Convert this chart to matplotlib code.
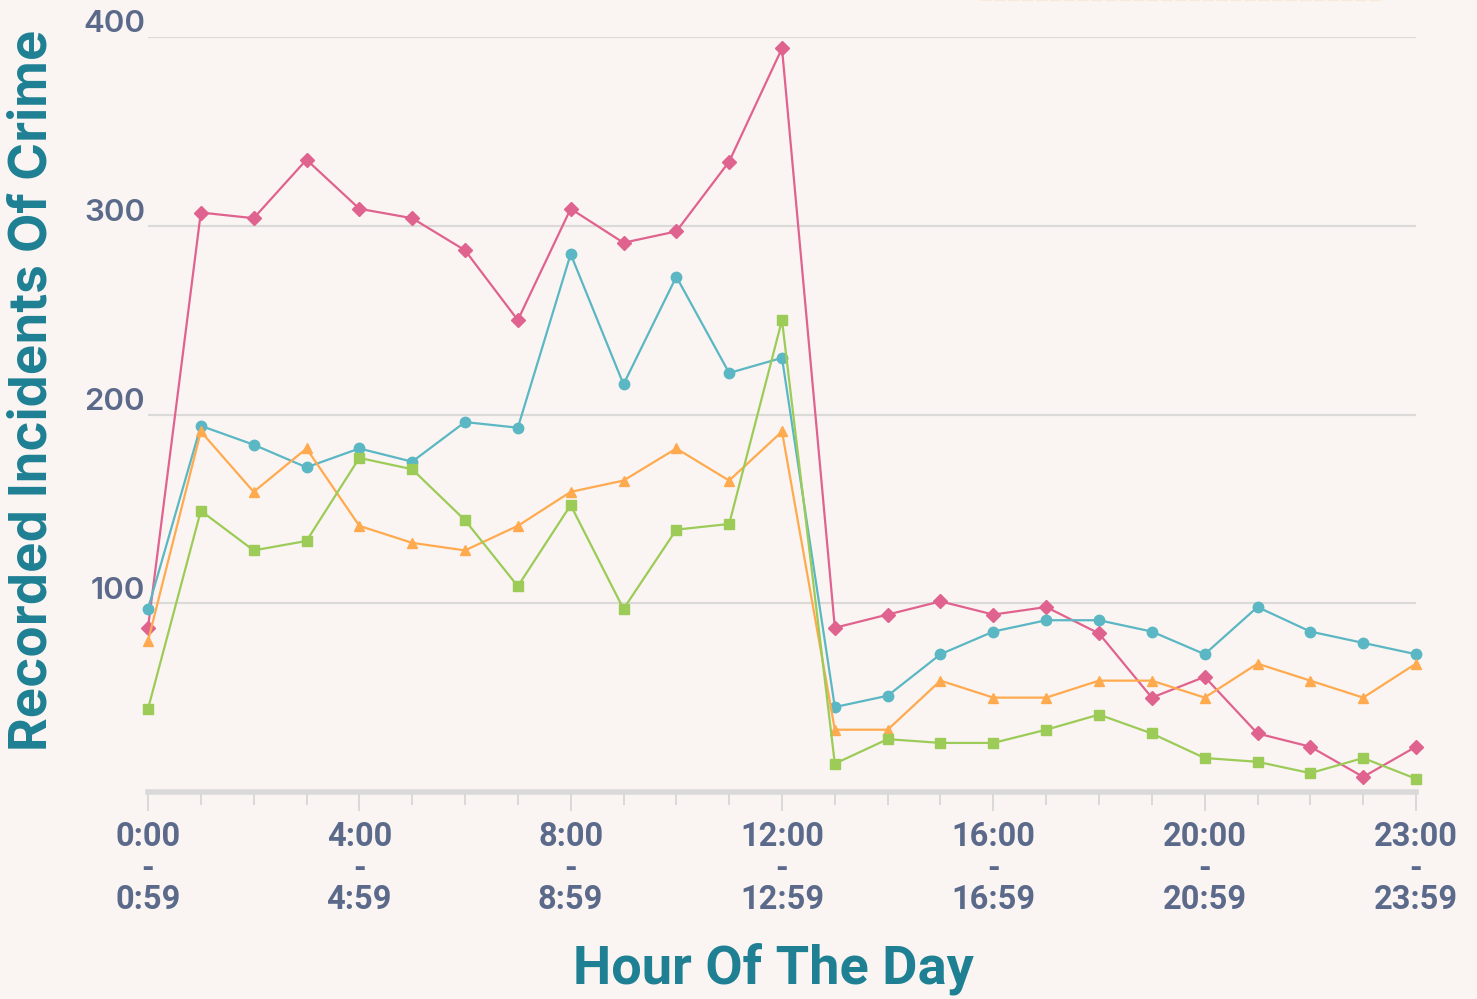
import numpy as np
import matplotlib
matplotlib.use("Agg")
import matplotlib.pyplot as plt
from matplotlib import transforms
from matplotlib.lines import Line2D

# hourly slots (25 points along the axis, as in the source chart)
hours = list(range(25))

series_pink = [87, 307, 304, 335, 309, 304, 287, 250, 309, 291, 297, 334, 394,
               87, 94, 101, 94, 98, 84, 50, 61, 31, 24, 8, 24]
series_teal = [97, 194, 184, 172, 182, 175, 196, 193, 285, 216, 273, 222, 230,
               45, 51, 73, 85, 91, 91, 85, 73, 98, 85, 79, 73]
series_orange = [80, 191, 159, 182, 141, 132, 128, 141, 159, 165, 182, 165, 191,
                 33, 33, 59, 50, 50, 59, 59, 50, 68, 59, 50, 68]
series_green = [44, 149, 128, 133, 177, 171, 144, 109, 152, 97, 139, 142, 250,
                15, 28, 26, 26, 33, 41, 31, 18, 16, 10, 18, 7]

tick_pos = [0, 4, 8, 12, 16, 20, 24]
tick_labels = ["0:00\n-\n0:59", "4:00\n-\n4:59", "8:00\n-\n8:59", "12:00\n-\n12:59",
               "16:00\n-\n16:59", "20:00\n-\n20:59", "23:00\n-\n23:59"]
y_ticks = [100, 200, 300, 400]

bg = "#faf5f2"
label_col = "#5b6a8a"
title_col = "#1f8093"
grid_col = "#dcdad9"

fig = plt.figure(figsize=(14.77, 9.99), dpi=100, facecolor=bg)
ax = fig.add_axes([148 / 1477, 1 - 792 / 999, (1416 - 148) / 1477, (792 - 37) / 999])
ax.set_facecolor(bg)
ax.set_xlim(0, 24)
ax.set_ylim(0, 400)

for y in y_ticks:
    ax.axhline(y, color=grid_col, lw=1.6, zorder=1)

styles = [
    (series_pink, "#e0638f", "D", 7.5),
    (series_teal, "#5ab7c3", "o", 7.5),
    (series_orange, "#ffaa4f", "^", 7.5),
    (series_green, "#9ccb58", "s", 7.5),
]
for i, (vals, col, mk, ms) in enumerate(styles):
    ax.plot(hours, vals, color=col, lw=1.6, marker=mk, ms=ms, mec=col, mfc=col,
            clip_on=False, zorder=3 + i)

for s in ["top", "right", "left"]:
    ax.spines[s].set_visible(False)
ax.spines["bottom"].set_color("#d9d9d9")
ax.spines["bottom"].set_linewidth(4)
ax.spines["bottom"].set_zorder(2)

ax.set_yticks([])
ax.set_xticks(tick_pos)
ax.set_xticks(hours, minor=True)
ax.set_xticklabels(tick_labels, fontsize=23.5, fontweight="bold", color=label_col,
                   family=["Roboto", "DejaVu Sans"], linespacing=0.98)
ax.tick_params(axis="x", which="major", length=14, width=1.4, color="#d9d9d9", pad=7)
ax.tick_params(axis="x", which="minor", length=9, width=1.4, color="#d9d9d9")

# y labels sit above the grid lines
off = transforms.ScaledTranslation(-3 / 100, 4.5 / 100, fig.dpi_scale_trans)
trans = transforms.blended_transform_factory(ax.transAxes, ax.transData) + off
for y in y_ticks:
    ax.text(0, y, str(y), transform=trans, ha="right", va="baseline",
            fontsize=22.5, fontweight="semibold", color=label_col,
            family=["Inter", "DejaVu Sans"])

fig.text(33 / 1477, 1 - 390 / 999, "Recorded Incidents Of Crime", rotation=90,
         ha="center", va="center", fontsize=37, fontweight="bold", color=title_col,
         family=["Inter", "DejaVu Sans"])
fig.text(773 / 1477, 1 - 969 / 999, "Hour Of The Day", ha="center", va="center",
         fontsize=39, fontweight="bold", color=title_col, family=["Roboto", "DejaVu Sans"])

# faint dashed edge peeking in at the top right
fig.add_artist(Line2D([980 / 1477, 1380 / 1477], [0.9995, 0.9995], color="#fbe8da",
                      lw=1.0, ls=(0, (8, 2)), transform=fig.transFigure))

fig.savefig("out.png", dpi=100, facecolor=bg)
